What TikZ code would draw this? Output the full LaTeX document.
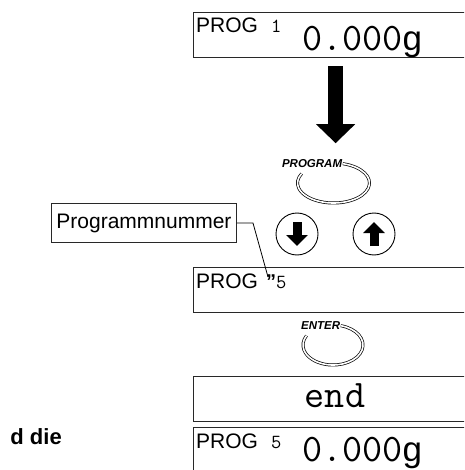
\documentclass[tikz,border=0pt]{standalone}
\usepackage{fontspec}
\setmainfont{Liberation Sans}
\usetikzlibrary{positioning,arrows.meta}
\definecolor{framegray}{RGB}{40,40,40}

\begin{document}
\begin{tikzpicture}[x=1pt,y=-1pt,
  dispbox/.style={rectangle,draw=framegray,line width=1.2pt,anchor=north west,
    minimum width=284pt,minimum height=45pt,inner sep=0pt},
  progtxt/.style={font=\fontsize{21}{21}\selectfont,inner sep=0pt,anchor=base west},
  lcdsmall/.style={font=\ttfamily\fontsize{20}{20}\selectfont,inner sep=0pt,anchor=base west},
  lcdbig/.style={font=\ttfamily\fontsize{39}{39}\selectfont,inner sep=0pt},
  keylbl/.style={font=\bfseries\itshape\fontsize{11.5}{11.5}\selectfont,inner sep=0.5pt,anchor=east},
  keyring/.style={draw=black,line width=0.7pt,double=white,double distance=1.6pt},
  arrowkey/.style={circle,draw=black,line width=0.9pt,minimum size=42pt,inner sep=0pt},
  bigarrow/.style={line width=15pt,-{Triangle[width=38pt,length=19pt]}},
  smallarrow/.style={line width=9pt,-{Triangle[width=21pt,length=11pt]}},
  leader/.style={draw=black,line width=0.8pt}]
\useasboundingbox (0,0) rectangle (464,470);
\clip (0,0) rectangle (464,470);

% display before
\node[dispbox] (topdisp) at (193,12) {};
\node[progtxt] (topprog) at (196,33) {PROG};
\node[lcdsmall] (topnum) at (271,33) {1};
\node[lcdbig,anchor=base west] (topval) at (302,50.5) {0.000{\fontsize{35}{35}\selectfont\rmfamily g}};

\draw[bigarrow] ([yshift=-8pt]topdisp.south) -- ([yshift=-85pt]topdisp.south);

% PROGRAM key
\coordinate (progkey) at (333.5,183);
\node[keylbl] (proglbl) at ([shift={(-75:36 and 20)}]progkey) {PROGRAM};
\draw[keyring] (proglbl.east) arc[start angle=-75,end angle=208,x radius=36,y radius=20];

% arrow keys
\node[arrowkey] (dnkey) at (297,234) {};
\node[arrowkey] (upkey) at (374,234) {};
\draw[smallarrow] ([yshift=12pt]dnkey.center) -- ([yshift=-12pt]dnkey.center);
\draw[smallarrow] ([yshift=-12pt]upkey.center) -- ([yshift=12pt]upkey.center);

% program number
\node[dispbox] (numdisp) at (193,267) {};
\node[progtxt] (numprog) at (196,288) {PROG};
\node[lcdsmall] (numval) at (266,288) {{\rmfamily\bfseries"}5};
\node[draw=framegray,line width=1.1pt,font=\fontsize{21}{21}\selectfont,
      inner xsep=5pt,minimum height=39pt,anchor=north east] (numlbl) at (237,203) {Programmnummer};
\coordinate (quotetip) at (268,277);
\draw[leader] (numlbl.east) -- ++(16,0) -- (quotetip);

% ENTER key
\coordinate (enterkey) at (333,345);
\node[keylbl] (enterlbl) at ([shift={(-75:30 and 20)}]enterkey) {ENTER};
\draw[keyring] (enterlbl.east) arc[start angle=-75,end angle=208,x radius=30,y radius=20];

% end
\node[dispbox] (enddisp) at (193,376) {};
\node[lcdbig,anchor=base] (endtxt) at (335,407) {end};

% display after
\node[dispbox] (resdisp) at (193,427) {};
\node[progtxt] (resprog) at (196,448) {PROG};
\node[lcdsmall] (resnum) at (271,448) {5};
\node[lcdbig,anchor=base west] (resval) at (302,461) {0.000{\fontsize{35}{35}\selectfont\rmfamily g}};

\node[font=\bfseries\fontsize{22}{22}\selectfont,inner sep=0pt,anchor=base east] (cuttxt) at (62,444) {d die};
\end{tikzpicture}
\end{document}
